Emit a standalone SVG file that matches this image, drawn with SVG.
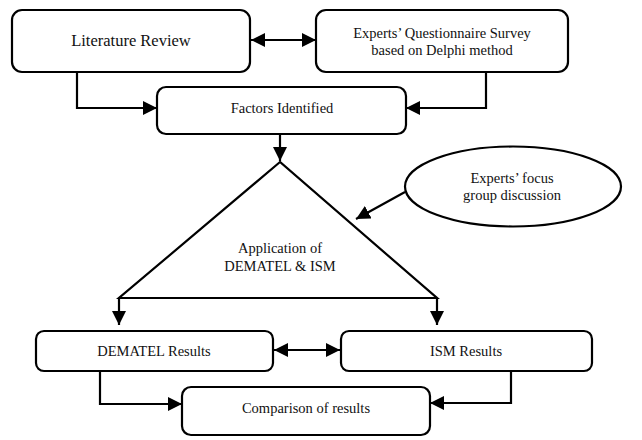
<svg xmlns="http://www.w3.org/2000/svg" width="642" height="440" viewBox="0 0 642 440">
<style>
.box{fill:#fff;stroke:#000;stroke-width:2.2}
.ln{fill:none;stroke:#000;stroke-width:2.2}
text{font-family:'Liberation Serif','DejaVu Serif',serif;font-size:14.5px;fill:#111;text-anchor:middle}
.big{font-size:16.5px}
</style>
<defs>
<marker id="ah" viewBox="0 0 14 14" refX="14" refY="7" markerWidth="14" markerHeight="14" markerUnits="userSpaceOnUse" orient="auto-start-reverse">
<path d="M0,0 L14,7 L0,14 Z" fill="#000"/>
</marker>
</defs>
<rect width="642" height="440" fill="#fff"/>
<g id="connectors">
<line class="ln" x1="251" y1="40" x2="316" y2="40" marker-start="url(#ah)" marker-end="url(#ah)"/>
<polyline class="ln" points="77,72 77,108 157,108" marker-end="url(#ah)"/>
<polyline class="ln" points="486,72 486,108 406,108" marker-end="url(#ah)"/>
<line class="ln" x1="280" y1="134" x2="280" y2="161" marker-end="url(#ah)"/>
<line class="ln" x1="405" y1="192" x2="356" y2="219" marker-end="url(#ah)"/>
<line class="ln" x1="119" y1="298" x2="119" y2="325" marker-end="url(#ah)"/>
<line class="ln" x1="437" y1="298" x2="437" y2="325" marker-end="url(#ah)"/>
<line class="ln" x1="274" y1="350" x2="340" y2="350" marker-start="url(#ah)" marker-end="url(#ah)"/>
<polyline class="ln" points="100,371 100,404 182,404" marker-end="url(#ah)"/>
<polyline class="ln" points="511,371 511,403 430,403" marker-end="url(#ah)"/>
</g>
<g id="literature">
<rect class="box" x="12" y="10" width="238" height="62" rx="10"/>
<text class="big" x="131" y="46">Literature Review</text>
</g>
<g id="experts-survey">
<rect class="box" x="316" y="10" width="252" height="62" rx="10"/>
<text x="442" y="38">Experts’ Questionnaire Survey</text>
<text x="442" y="55">based on Delphi method</text>
</g>
<g id="factors">
<rect class="box" x="157" y="87" width="249" height="47" rx="9"/>
<text x="282" y="113">Factors Identified</text>
</g>
<g id="application">
<polygon class="ln" points="280,162 119,298 437,298" stroke-linejoin="miter"/>
<text x="280" y="253">Application of</text>
<text x="280" y="271">DEMATEL &amp; ISM</text>
</g>
<g id="focus-group">
<ellipse class="box" cx="513" cy="186.5" rx="108" ry="40"/>
<text x="512" y="183">Experts’ focus</text>
<text x="512" y="200">group discussion</text>
</g>
<g id="dematel">
<rect class="box" x="36" y="331" width="237" height="40" rx="8"/>
<text x="154" y="356">DEMATEL Results</text>
</g>
<g id="ism">
<rect class="box" x="341" y="331" width="251" height="40" rx="8"/>
<text x="466" y="356">ISM Results</text>
</g>
<g id="comparison">
<rect class="box" x="182" y="387" width="248" height="48" rx="9"/>
<text x="306" y="413">Comparison of results</text>
</g>
</svg>
